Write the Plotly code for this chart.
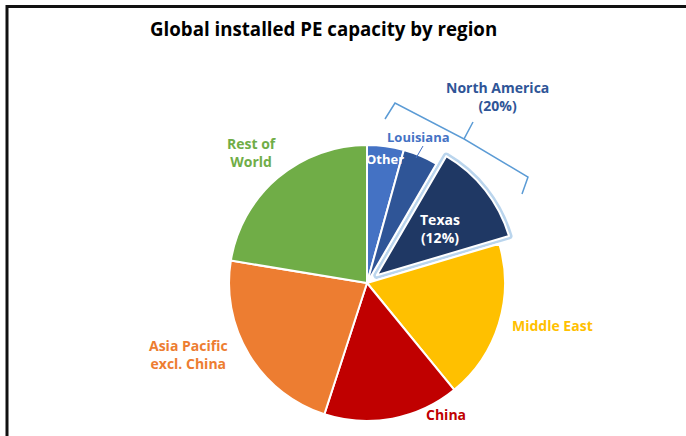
import plotly.graph_objects as go

# Share of global installed PE capacity (%), clockwise from 12 o'clock
regions = ["Other", "Louisiana", "Texas", "Middle East", "China",
           "Asia Pacific excl. China", "Rest of World"]
shares = [4.3, 4.1, 12.0, 18.7, 15.9, 22.6, 22.4]
colors = ["#4472C4", "#2F5597", "#1F3864", "#FFC000", "#C00000", "#ED7D31", "#70AD47"]
pulls = [0, 0, 0.09, 0, 0, 0, 0]
north_america_share = 20

W, H = 686, 436
FONT = "Open Sans"


def px(x, y):
    # pixel position -> paper coords (margins are zero)
    return x / W, 1 - y / H


dom_x = [216.6 / W, 517.4 / W]
dom_y = [2.6 / H, 303.4 / H]

fig = go.Figure()

# glow under the pulled-out Texas slice
glow_widths = [0, 0, 7, 0, 0, 0, 0]
fig.add_trace(go.Pie(
    labels=regions, values=shares, sort=False, direction="clockwise", rotation=0,
    pull=pulls, domain={"x": dom_x, "y": dom_y}, textinfo="none", hoverinfo="skip",
    marker={"colors": ["rgba(0,0,0,0)"] * len(regions),
            "line": {"color": ["rgba(157,195,230,0.7)" if w else "rgba(0,0,0,0)" for w in glow_widths],
                     "width": glow_widths}},
    showlegend=False,
))

fig.add_trace(go.Pie(
    labels=regions, values=shares, sort=False, direction="clockwise", rotation=0,
    pull=pulls, domain={"x": dom_x, "y": dom_y}, textinfo="none",
    marker={"colors": colors, "line": {"color": "white", "width": 2}},
    showlegend=False,
))


def label(x, y, text, color, size=14):
    ax, ay = px(x, y)
    fig.add_annotation(x=ax, y=ay, xref="paper", yref="paper", text=text, showarrow=False,
                       font={"family": FONT, "size": size, "color": color},
                       xanchor="center", yanchor="middle", align="center")


label(323, 29, "<b>Global installed PE capacity by region</b>", "#000000", 18.7)
label(497, 96, f"<b>North America<br>({north_america_share}%)</b>", "#2F5597")
label(418, 137, "<b>Louisiana</b>", "#4472C4", 13)
label(385, 159, "<b>Other</b>", "white", 13)
label(440, 228, f"<b>Texas<br>({shares[2]:.0f}%)</b>", "white")
label(552, 325, "<b>Middle East</b>", "#FFC000")
label(446, 414, "<b>China</b>", "#C00000")
label(189, 354, "<b>Asia Pacific<br>excl. China</b>", "#ED7D31")
label(252, 152, "<b>Rest of<br>World</b>", "#70AD47")

# Louisiana leader line
x0, y0 = px(423, 146)
x1, y1 = px(416, 158)
fig.add_shape(type="line", xref="paper", yref="paper", x0=x0, y0=y0, x1=x1, y1=y1,
              line={"color": "#4472C4", "width": 1})

# brace around the North America slices
pts = [(385, 119), (395, 103), (464, 139), (473, 122), (464, 139), (528, 177), (522, 194)]
path = ""
for i, (x, y) in enumerate(pts):
    path += ("M" if i == 0 else "L") + f"{x},{y} "
fig.add_shape(type="path", xref="x", yref="y", path=path.strip(),
              line={"color": "#5B9BD5", "width": 1.5})

# outer frame (top and left edges)
fig.add_shape(type="line", xref="x", yref="y", x0=6, y0=6.5, x1=690, y1=6.5,
              line={"color": "#111111", "width": 3})
fig.add_shape(type="line", xref="x", yref="y", x0=7, y0=5, x1=7, y1=440,
              line={"color": "#111111", "width": 3})

fig.update_layout(
    width=W, height=H,
    margin={"l": 0, "r": 0, "t": 0, "b": 0},
    paper_bgcolor="white", plot_bgcolor="rgba(0,0,0,0)",
    font={"family": FONT},
    xaxis={"range": [0, W], "visible": False, "fixedrange": True, "domain": [0, 1]},
    yaxis={"range": [H, 0], "visible": False, "fixedrange": True, "domain": [0, 1]},
    showlegend=False,
)

fig.write_html("out.html", config={"displayModeBar": False},
               post_script="document.body.style.margin='0';document.body.style.overflow='hidden';")
